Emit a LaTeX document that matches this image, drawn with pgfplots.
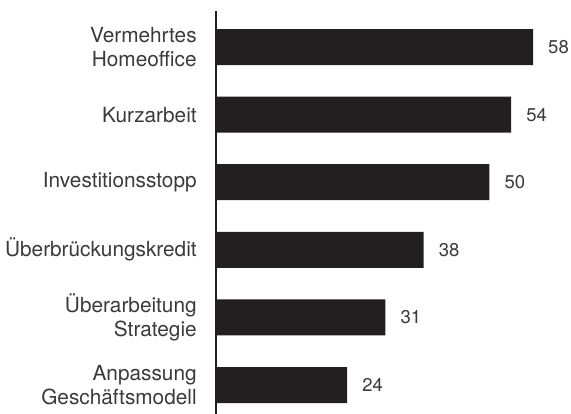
\documentclass[border=0pt]{standalone}
\usepackage{pgfplots}
\pgfplotsset{compat=1.18}
\usepackage{fontspec}
\setmainfont{TeX Gyre Heros}
\definecolor{barc}{HTML}{231F20}
\definecolor{txt}{HTML}{3A3A3A}
\begin{document}
\begin{tikzpicture}
\path[use as bounding box] (0,0) rectangle (571bp,414bp);
\begin{axis}[
  at={(216bp,0bp)}, anchor=south west,
  scale only axis, width=355.3bp, height=403bp,
  xbar, bar width=36bp,
  xmin=0, xmax=65,
  ymin=-0.429, ymax=5.533,
  axis x line=none,
  axis y line=left,
  y axis line style={-, line width=2bp, color=barc},
  ytick={0,1,2,3,4,5},
  yticklabels={{Anpassung\\Geschäftsmodell},{Überarbeitung\\Strategie},{Überbrückungskredit},{Investitionsstopp},{Kurzarbeit},{Vermehrtes\\Homeoffice}},
  ytick style={draw=none},
  yticklabel style={align=right, text=txt, font=\fontsize{20.8bp}{23.5bp}\selectfont, inner sep=0pt, xshift=-17bp},
  /pgf/number format/assume math mode=true,
  nodes near coords,
  every node near coord/.append style={anchor=west, inner sep=0pt, xshift=15bp, text=txt, font=\fontsize{18.5bp}{20bp}\selectfont},
  clip=false,
]
\addplot[fill=barc, draw=none] coordinates {(24,0) (31,1) (38,2) (50,3) (54,4) (58,5)};
\end{axis}
\end{tikzpicture}
\end{document}
